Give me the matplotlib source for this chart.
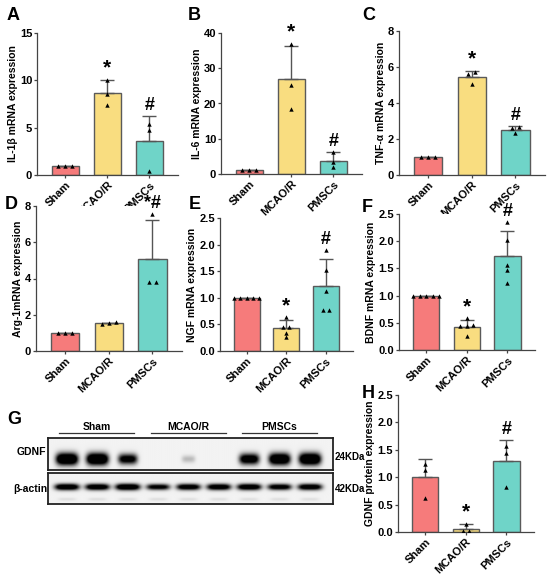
import numpy as np
import matplotlib
matplotlib.use("Agg")
import matplotlib.pyplot as plt
import matplotlib.transforms as mtrans

plt.rcParams['font.family'] = ['Liberation Sans', 'DejaVu Sans']
plt.rcParams['font.weight'] = 'bold'
plt.rcParams['axes.labelweight'] = 'bold'

# ---------------- data ----------------
groups = ["Sham", "MCAO/R", "PMSCs"]
bar_colors = ["#F67B7B", "#F9DD80", "#6FD4C8"]

il1b_mean = [1.0, 8.68, 3.55]
il1b_err = [0.0, 1.33, 2.72]
il1b_pts = [[1.0, 1.0, 1.0], [10.07, 8.55, 7.42], [5.4, 4.8, 0.46]]

il6_mean = [1.0, 26.9, 3.8]
il6_err = [0.0, 9.3, 2.3]
il6_pts = [[1.0, 1.0, 1.0], [36.9, 25.2, 18.5], [6.1, 3.3, 1.9]]

tnfa_mean = [1.0, 5.47, 2.52]
tnfa_err = [0.0, 0.33, 0.2]
tnfa_pts = [[1.0, 1.0, 1.0], [5.73, 5.6, 5.08], [2.64, 2.6, 2.31]]

arg1_mean = [1.0, 1.56, 5.05]
arg1_err = [0.0, 0.0, 2.18]
arg1_pts = [[1.0, 1.0, 1.0], [1.5, 1.62, 1.56], [7.56, 3.79, 3.79]]

ngf_mean = [1.0, 0.43, 1.22]
ngf_err = [0.0, 0.15, 0.5]
ngf_pts = [[1.0, 1.0, 1.0, 1.0, 1.0], [0.63, 0.46, 0.46, 0.34, 0.26],
           [1.9, 1.52, 1.12, 0.78, 0.78]]

bdnf_mean = [1.0, 0.43, 1.73]
bdnf_err = [0.0, 0.12, 0.46]
bdnf_pts = [[1.0, 1.0, 1.0, 1.0, 1.0], [0.58, 0.46, 0.45, 0.44, 0.25],
            [2.35, 2.03, 1.56, 1.47, 1.23]]

gdnf_mean = [1.0, 0.06, 1.29]
gdnf_err = [0.34, 0.08, 0.39]
gdnf_pts = [[1.25, 1.13, 0.62], [0.15, 0.01, 0.01], [1.57, 1.45, 0.83]]

# western blot band intensities (9 lanes, 3 per group)
blot_groups = ["Sham", "MCAO/R", "PMSCs"]
gdnf_band = [1.0, 1.0, 0.72, 0.0, 0.14, 0.0, 0.8, 0.95, 1.0]
actin_band = [0.85, 0.82, 0.88, 0.7, 0.78, 0.8, 0.82, 0.75, 0.8]

# ---------------- figure ----------------
W, H = 550, 576
fig = plt.figure(figsize=(W / 100, H / 100), dpi=100)
TICK_FAMILY = ['Liberation Sans Narrow', 'Liberation Sans', 'DejaVu Sans']


def px_axes(l, t, r, b):
    return fig.add_axes([l / W, 1 - b / H, (r - l) / W, (b - t) / H])


def swarm_offsets(vals, tol, step):
    vals = np.asarray(vals, float)
    offs = np.zeros(len(vals))
    order = np.argsort(vals)
    grp = [[order[0]]]
    for idx in order[1:]:
        if vals[idx] - vals[grp[-1][-1]] < tol:
            grp[-1].append(idx)
        else:
            grp.append([idx])
    for g in grp:
        n = len(g)
        for k, idx in enumerate(g):
            offs[idx] = (k - (n - 1) / 2) * step
    return offs


def bar_panel(box, means, errs, pts, ymax, ticks, ticklabels, ylabel, marks):
    ax = px_axes(*box)
    x = np.arange(len(groups))
    ax.bar(x, means, width=0.65, color=bar_colors, edgecolor="#5a5a5a",
           linewidth=1.0, zorder=2)
    ax.errorbar(x, means, yerr=[np.zeros(3), errs], fmt="none",
                ecolor="#555555", elinewidth=1.0, capsize=5, capthick=1.0,
                zorder=3)
    for i, p in enumerate(pts):
        offs = swarm_offsets(p, 0.025 * ymax, 0.16)
        ax.scatter(x[i] + offs, p, marker="^", s=10, color="black",
                   zorder=4, linewidths=0)
    for i, m in enumerate(marks):
        if m:
            top = max(means[i] + errs[i], max(pts[i]))
            fs = 15 if m == "*" else 13
            ax.annotate(m, (x[i], top), xytext=(0, 1.5),
                        textcoords="offset points", ha="center", va="bottom",
                        fontsize=fs, fontweight="bold")
    ax.set_xlim(-0.67, 2.68)
    ax.set_ylim(0, ymax)
    ax.set_yticks(ticks)
    ax.set_yticklabels(ticklabels, fontsize=8, fontweight="bold",
                       family=TICK_FAMILY)
    ax.set_xticks(x)
    ax.set_xticklabels(groups, rotation=45, ha="right",
                       rotation_mode="anchor", fontsize=8, fontweight="bold")
    ax.set_ylabel(ylabel, fontsize=7.5, fontweight="bold", labelpad=1.5)
    for s in ["top", "right"]:
        ax.spines[s].set_visible(False)
    for s in ["left", "bottom"]:
        ax.spines[s].set_color("#444444")
        ax.spines[s].set_linewidth(0.9)
    ax.tick_params(axis="both", length=2.5, width=0.9, color="#444444",
                   pad=1.0)
    return ax


bar_panel((37, 33, 178, 175), il1b_mean, il1b_err, il1b_pts, 15,
          [0, 5, 10, 15], ["0", "5", "10", "15"], "IL-1β mRNA expression",
          ["", "*", "#"])
bar_panel((221, 33, 362, 174), il6_mean, il6_err, il6_pts, 40,
          [0, 10, 20, 30, 40], ["0", "10", "20", "30", "40"],
          "IL-6 mRNA expression", ["", "*", "#"])
bar_panel((399, 31, 545, 175), tnfa_mean, tnfa_err, tnfa_pts, 8,
          [0, 2, 4, 6, 8], ["0", "2", "4", "6", "8"],
          "TNF-α mRNA expression", ["", "*", "#"])
bar_panel((36, 206, 182, 351), arg1_mean, arg1_err, arg1_pts, 8,
          [0, 2, 4, 6, 8], ["0", "2", "4", "6", "8"],
          "Arg-1mRNA expression", ["", "", "*#"])
t25 = [0, 0.5, 1.0, 1.5, 2.0, 2.5]
t25l = ["0.0", "0.5", "1.0", "1.5", "2.0", "2.5"]
bar_panel((220, 218, 353, 351), ngf_mean, ngf_err, ngf_pts, 2.5, t25, t25l,
          "NGF mRNA expression", ["", "*", "#"])
bar_panel((399, 214, 535, 350), bdnf_mean, bdnf_err, bdnf_pts, 2.5, t25, t25l,
          "BDNF mRNA expression", ["", "*", "#"])
bar_panel((398, 395, 534, 532), gdnf_mean, gdnf_err, gdnf_pts, 2.5, t25, t25l,
          "GDNF protein expression", ["", "*", "#"])

# ---------------- western blot ----------------
def blot_image(intens, yc, hy, base_w, grow_w, extra=None):
    nx, ny = 600, 80
    xs = np.linspace(-0.62, 8.75, nx)
    ys = np.linspace(0, 1, ny)
    X, Y = np.meshgrid(xs, ys)
    img = np.full_like(X, 0.05)
    for i, v in enumerate(intens):
        if v <= 0:
            continue
        wx = base_w + grow_w * v
        hh = hy * (0.6 + 0.5 * v)
        band = np.exp(-(np.abs(X - i) / wx) ** 4 - ((Y - yc) / hh) ** 2)
        img += 1.6 * v * band
        if extra is not None:
            img += extra * np.exp(-(np.abs(X - i) / 0.3) ** 4 - ((Y - 0.85) / 0.05) ** 2)
    return np.clip(img, 0, 1)


ax_g = px_axes(48, 438, 333, 470)
ax_g.imshow(blot_image(gdnf_band, 0.66, 0.17, 0.2, 0.16), cmap="gray_r",
            vmin=0, vmax=1, aspect="auto", extent=(-0.62, 8.75, 1, 0),
            interpolation="bilinear")
ax_a = px_axes(48, 473, 333, 504)
ax_a.imshow(blot_image(actin_band, 0.45, 0.1, 0.3, 0.12, extra=0.08),
            cmap="gray_r", vmin=0, vmax=1, aspect="auto",
            extent=(-0.62, 8.75, 1, 0), interpolation="bilinear")
for ax in (ax_g, ax_a):
    ax.set_xticks([])
    ax.set_yticks([])
    for s in ax.spines.values():
        s.set_linewidth(1.3)
        s.set_color("#222222")

trans = mtrans.blended_transform_factory(ax_g.transData, ax_g.transAxes)
for k, g in enumerate(blot_groups):
    a, b = 3 * k - 0.25, 3 * k + 2 + 0.22
    ax_g.plot([a, b], [1.16, 1.16], color="#333333", lw=0.9,
              transform=trans, clip_on=False)
    ax_g.text((a + b) / 2, 1.2, g, transform=trans, ha="center",
              va="bottom", fontsize=7.5, fontweight="bold")

ax_g.text(-0.005, 0.55, "GDNF", transform=ax_g.transAxes, ha="right",
          va="center", fontsize=7.5, fontweight="bold")
ax_a.text(-0.002, 0.5, "β-actin", transform=ax_a.transAxes, ha="right",
          va="center", fontsize=7.5, fontweight="bold")
ax_g.text(1.007, 0.4, "24KDa", transform=ax_g.transAxes, ha="left",
          va="center", fontsize=7, fontweight="bold")
ax_a.text(1.007, 0.5, "42KDa", transform=ax_a.transAxes, ha="left",
          va="center", fontsize=7, fontweight="bold")

# ---------------- panel letters ----------------
letters = {"A": (7, 16), "B": (188, 16), "C": (362, 16), "D": (5, 204),
           "E": (189, 204), "F": (362, 207), "G": (7, 420), "H": (362, 393)}
for L, (lx, ly) in letters.items():
    fig.text(lx / W, 1 - ly / H, L, fontsize=13, fontweight="bold",
             ha="left", va="center")

fig.savefig("out.png", dpi=100)
